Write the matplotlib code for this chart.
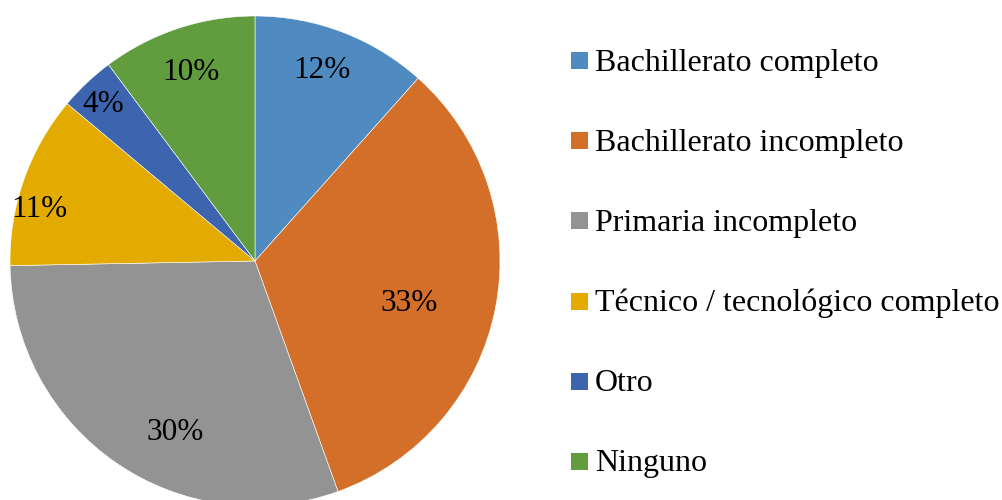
import numpy as np
import matplotlib.pyplot as plt
from matplotlib.patches import Rectangle
from matplotlib.transforms import offset_copy

# nivel educativo (porcentaje de encuestados)
categorias = ["Bachillerato completo", "Bachillerato incompleto", "Primaria incompleto",
              "Técnico / tecnológico completo", "Otro", "Ninguno"]
valores = [11.6, 32.9, 30.2, 11.4, 3.7, 10.2]
colores = ["#4F8BC0", "#D46F2A", "#939393", "#E3AB00", "#3D64AF", "#619C3F"]

# posicion de las etiquetas dentro de cada sector (radio relativo, giro en grados)
radio_etq = [0.84, 0.65, 0.76, 0.91, 0.90, 0.83]
giro_etq = [2, -3, 9, 5, 0, 0]

plt.rcParams['font.family'] = ['Liberation Serif', 'DejaVu Serif']

fig = plt.figure(figsize=(10.02, 5.0), dpi=100)
ax = fig.add_axes([10 / 1002, -6 / 500, 490 / 1002, 490 / 500])

wedges, _ = ax.pie(valores, colors=colores, startangle=90, counterclock=False,
                   wedgeprops=dict(edgecolor='white', linewidth=0.4))
ax.set_xlim(-1, 1)
ax.set_ylim(-1, 1)
ax.set_aspect('equal')
ax.axis('off')

# bajar un poco las etiquetas (unos 4 px)
trans = offset_copy(ax.transData, fig=fig, x=0, y=-4, units='dots')
for w, v, r, g in zip(wedges, valores, radio_etq, giro_etq):
    ang = np.deg2rad((w.theta1 + w.theta2) / 2 + g)
    ax.text(r * np.cos(ang), r * np.sin(ang), f"{v:.0f}%", ha='center', va='center',
            fontsize=22.5, color='black', transform=trans)

# leyenda a la derecha
for i, (cat, col) in enumerate(zip(categorias, colores)):
    yc = 60.5 + 80.2 * i
    fig.patches.append(Rectangle((571 / 1002, 1 - (yc + 8.5) / 500), 17 / 1002, 17 / 500,
                                 transform=fig.transFigure, facecolor=col, edgecolor='none'))
    fig.text(595 / 1002, 1 - (yc + 10) / 500, cat, ha='left', va='baseline',
             fontsize=23, color='black')

fig.savefig('out.png', dpi=100)
